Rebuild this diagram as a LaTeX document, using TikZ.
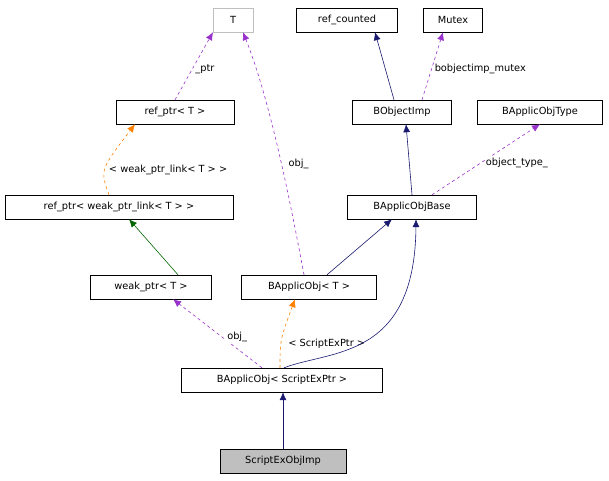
\documentclass[tikz,border=0pt]{standalone}
\usepackage{fontspec}
\setmainfont{DejaVu Sans}
\usetikzlibrary{arrows.meta}
\begin{document}
\begin{tikzpicture}[x=1pt,y=-1pt,
  box/.style={draw=black,fill=white,minimum height=24pt,inner sep=0pt,font=\fontsize{9.8}{11}\selectfont},
  lbl/.style={font=\fontsize{9.8}{11}\selectfont,fill=white,inner sep=1pt},
  inh/.style={draw={rgb,255:red,25;green,25;blue,112},-{Latex[length=8pt,width=7pt]}, line width=0.6pt},
  inhg/.style={draw={rgb,255:red,0;green,100;blue,0},-{Latex[length=8pt,width=7pt]}, line width=0.6pt},
  use/.style={draw={rgb,255:red,153;green,50;blue,204},dashed,-{Latex[length=8pt,width=7pt]}, line width=0.6pt},
  tmpl/.style={draw=orange,dashed,-{Latex[length=8pt,width=7pt]}, line width=0.6pt}]
\useasboundingbox (0,0) rectangle (609,480);
\node[box,draw={rgb,255:red,191;green,191;blue,191},minimum width=40pt] (T) at (233,20) {T};
\node[box,minimum width=101pt] (rc) at (347,20) {ref\_counted};
\node[box,minimum width=59pt] (mx) at (453,20) {Mutex};
\node[box,minimum width=118pt] (rpT) at (175,112) {ref\_ptr< T >};
\node[box,minimum width=99pt] (boi) at (402,112) {BObjectImp};
\node[box,minimum width=125pt] (bot) at (540,112) {BApplicObjType};
\node[box,minimum width=228pt] (rpw) at (119,207) {ref\_ptr< weak\_ptr\_link< T > >};
\node[box,minimum width=129pt] (bob) at (412,207) {BApplicObjBase};
\node[box,minimum width=121pt] (wp) at (151,287) {weak\_ptr< T >};
\node[box,minimum width=135pt] (boT) at (309,287) {BApplicObj< T >};
\node[box,minimum width=201pt] (boS) at (282,380) {BApplicObj< ScriptExPtr >};
\node[box,fill={rgb,255:red,191;green,191;blue,191},minimum width=126pt] (sei) at (283,461) {ScriptExObjImp};

\draw[inh] (boi.north) ++(-8,0) -- ([xshift=28pt]rc.south);
\draw[use] (boi.north) ++(20,0) -- ([xshift=-10pt]mx.south) node[lbl,pos=0.45,right=2pt] {bobjectimp\_mutex};
\draw[use] (rpT.north) -- ([xshift=-20pt]T.south) node[lbl,pos=0.45,right=2pt] {\_ptr};
\draw[tmpl] ([xshift=-10pt]rpw.north) .. controls (100,170) .. ([xshift=-40pt]rpT.south) node[lbl,pos=0.45,right=3pt] {< weak\_ptr\_link< T > >};
\draw[inh] (bob.north) -- ([xshift=4pt]boi.south);
\draw[use] ([xshift=20pt]bob.north) -- (bot.south) node[lbl,pos=0.45,right=4pt] {object\_type\_};
\draw[inhg] ([xshift=27pt]wp.north) -- ([xshift=10pt]rpw.south);
\draw[use] ([xshift=-5pt]boT.north) .. controls (290,200) and (270,100) .. ([xshift=10pt]T.south) node[lbl,pos=0.45,right=6pt] {obj\_};
\draw[inh] ([xshift=18pt]boT.north) -- ([xshift=-20pt]bob.south);
\draw[use] ([xshift=-20pt]boS.north) -- ([xshift=22pt]wp.south) node[lbl,pos=0.45,right=4pt] {obj\_};
\draw[tmpl] ([xshift=-2pt]boS.north) .. controls (280,340) .. ([xshift=-14pt]boT.south) node[lbl,pos=0.4,right=6pt] {< ScriptExPtr >};
\draw[inh] ([xshift=2pt]boS.north) .. controls (330,350) and (415,360) .. ([xshift=4pt]bob.south);
\draw[inh] (sei.north) -- (sei.north |- boS.south);
\end{tikzpicture}
\end{document}
